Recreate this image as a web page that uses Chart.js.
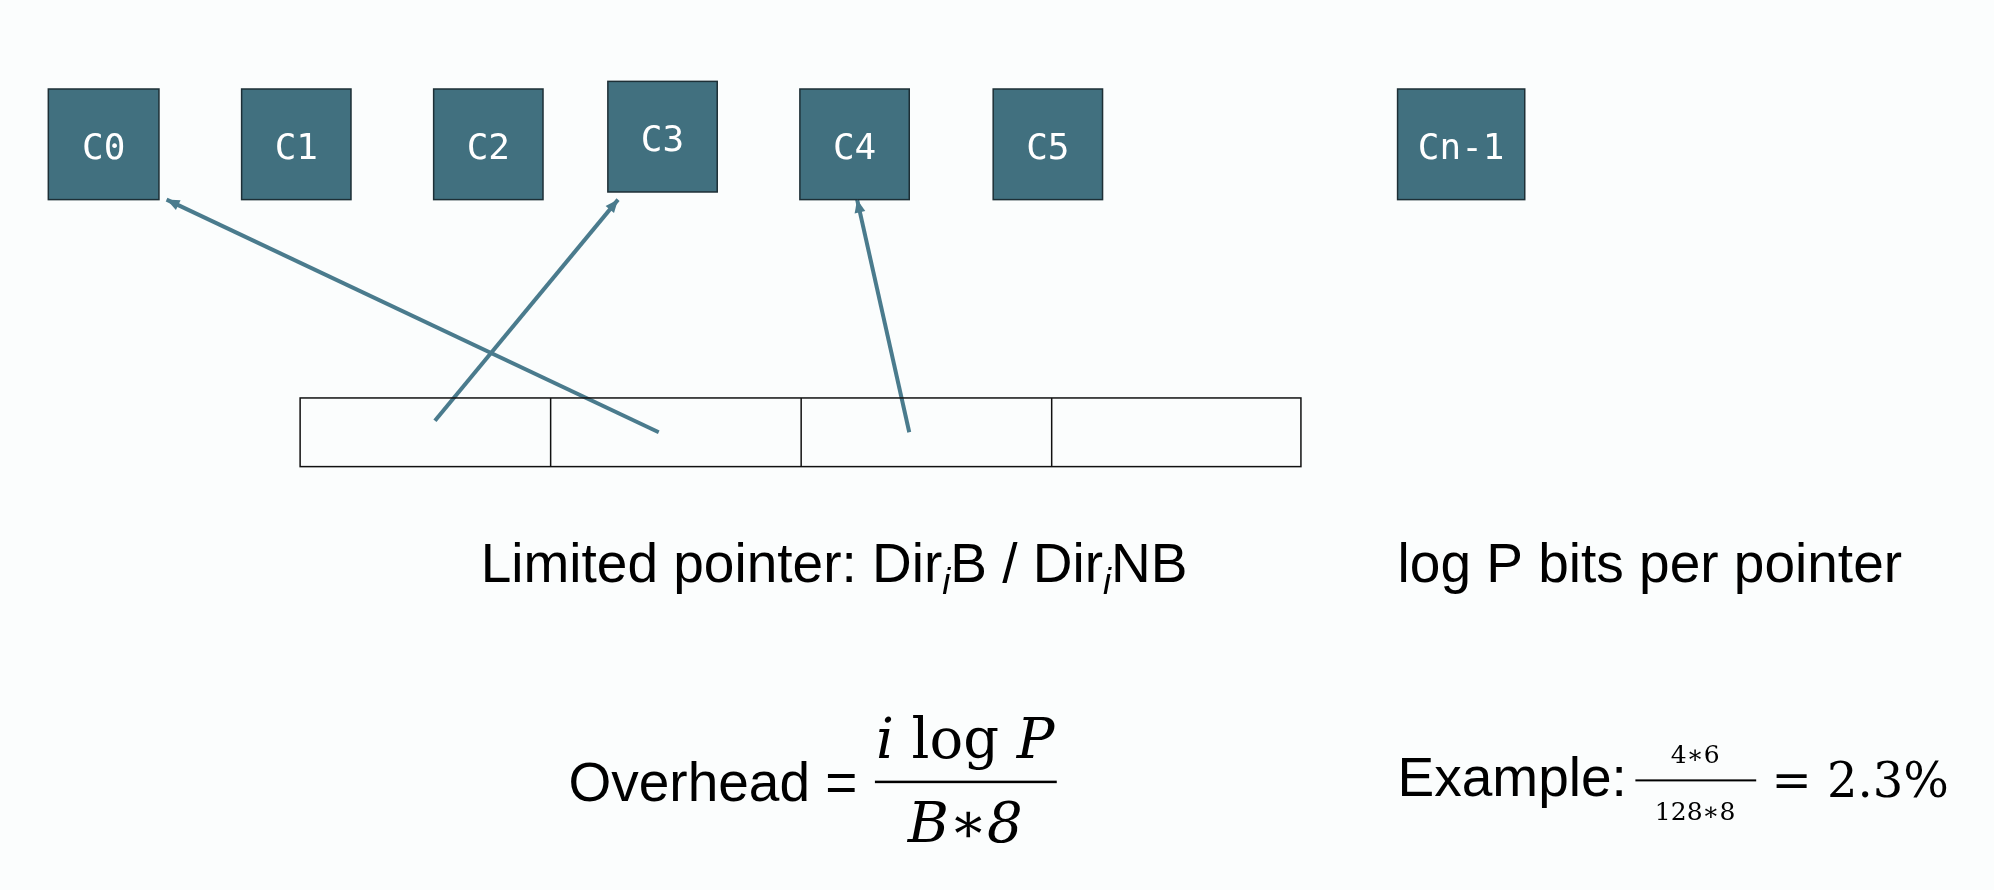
<!DOCTYPE html>
<html>
<head>
<meta charset="utf-8">
<script src="https://cdn.jsdelivr.net/npm/chart.js@4/dist/chart.umd.min.js"></script>
<style>
  html, body { margin: 0; padding: 0; background: #fbfdfd; }
  #wrap { width: 1994px; height: 890px; }
</style>
</head>
<body>
<div id="wrap"><canvas id="c"></canvas></div>
<script>
"use strict";

// cache labels and their boxes (x0, y0, x1, y1) in the 1568x700 drawing units
const cacheLabels = ["C0", "C1", "C2", "C3", "C4", "C5", "Cn-1"];
const cacheBoxes = [
    [38, 70, 125, 157], [190, 70, 276, 157], [341, 70, 427, 157],
    [478, 64, 564, 151], [629, 70, 715, 157], [781, 70, 867, 157],
    [1099, 70, 1199, 157],
];
// directory entry row
const entryEdges = [236, 433, 630, 827, 1023];
const entryTop = 313;
const entryBottom = 367;
// pointer arrows: start (in entry) -> end (at cache)
const pointers = [
    [{ x: 518, y: 340 }, { x: 131, y: 157 }],
    [{ x: 342, y: 331 }, { x: 486, y: 157 }],
    [{ x: 715, y: 340 }, { x: 674, y: 157 }],
];

const K = 1994 / 1568;
const teal = "#41707f";
const arrowColor = "#4a7b8d";

const diagramPlugin = {
    id: "diagram",
    afterDatasetsDraw(chart) {
        const ctx = chart.ctx;
        const sx = chart.scales.x, sy = chart.scales.y;
        const X = (v) => sx.getPixelForValue(v);
        const Y = (v) => sy.getPixelForValue(v);
        ctx.save();
        // cache boxes
        cacheBoxes.forEach((b, i) => {
            ctx.fillStyle = teal;
            ctx.fillRect(X(b[0]), Y(b[1]), X(b[2]) - X(b[0]), Y(b[3]) - Y(b[1]));
            ctx.strokeStyle = "#1d2f36";
            ctx.lineWidth = 1.5;
            ctx.strokeRect(X(b[0]), Y(b[1]), X(b[2]) - X(b[0]), Y(b[3]) - Y(b[1]));
            ctx.fillStyle = "#ffffff";
            ctx.font = `${Math.round(28 * K)}px "DejaVu Sans Mono"`;
            ctx.textAlign = "center";
            ctx.textBaseline = "middle";
            ctx.fillText(cacheLabels[i], X((b[0] + b[2]) / 2), Y((b[1] + b[3]) / 2 + 4));
        });
        // entry row
        ctx.strokeStyle = "#111";
        ctx.lineWidth = 1.5;
        ctx.strokeRect(X(entryEdges[0]), Y(entryTop), X(entryEdges[4]) - X(entryEdges[0]), Y(entryBottom) - Y(entryTop));
        entryEdges.slice(1, -1).forEach((e) => {
            ctx.beginPath();
            ctx.moveTo(X(e), Y(entryTop));
            ctx.lineTo(X(e), Y(entryBottom));
            ctx.stroke();
        });
        // arrowheads
        pointers.forEach((p) => {
            const x1 = X(p[1].x), y1 = Y(p[1].y);
            const a = Math.atan2(y1 - Y(p[0].y), x1 - X(p[0].x));
            const L = 14;
            ctx.fillStyle = arrowColor;
            ctx.beginPath();
            ctx.moveTo(x1, y1);
            ctx.lineTo(x1 - L * Math.cos(a - 0.4), y1 - L * Math.sin(a - 0.4));
            ctx.lineTo(x1 - L * Math.cos(a + 0.4), y1 - L * Math.sin(a + 0.4));
            ctx.closePath();
            ctx.fill();
        });
        // texts
        ctx.fillStyle = "#000";
        ctx.textAlign = "left";
        ctx.textBaseline = "alphabetic";
        const sans = `${Math.round(43 * K)}px "Liberation Sans"`;
        const sub = `italic ${Math.round(28 * K)}px "Liberation Sans"`;
        const runs = (x, y, parts) => {
            let cx = X(x);
            parts.forEach(([t, f, dy]) => {
                ctx.font = f;
                ctx.fillText(t, cx, Y(y + (dy || 0)));
                cx += ctx.measureText(t).width;
            });
            return cx;
        };
        runs(378, 458, [["Limited pointer: Dir", sans], ["i", sub, 9], ["B / Dir", sans], ["i", sub, 9], ["NB", sans]]);
        runs(1099, 458, [["log P bits per pointer", sans]]);
        runs(447, 630, [["Overhead = ", sans]]);
        // overhead fraction
        const serifI = `italic ${Math.round(44 * K)}px "DejaVu Serif"`;
        const serif = `${Math.round(44 * K)}px "DejaVu Serif"`;
        ctx.font = serifI;
        const w1 = ctx.measureText("i ").width;
        ctx.font = serif;
        const w2 = ctx.measureText("log ").width;
        ctx.font = serifI;
        const w3 = ctx.measureText("P").width;
        let nx = X(759) - (w1 + w2 + w3) / 2;
        ctx.fillText("i ", nx, Y(596));
        ctx.font = serif;
        ctx.fillText("log ", nx + w1, Y(596));
        ctx.font = serifI;
        ctx.fillText("P", nx + w1 + w2, Y(596));
        ctx.textAlign = "center";
        ctx.font = serifI;
        ctx.fillText("B\u22178", X(759), Y(662));
        ctx.fillRect(X(688), Y(614), X(831) - X(688), 2.5);
        ctx.textAlign = "left";
        runs(1099, 626, [["Example: ", sans]]);
        const small = `${Math.round(20 * K)}px "DejaVu Serif"`;
        ctx.font = small;
        ctx.textAlign = "center";
        ctx.fillText("4\u22176", X(1333), Y(600));
        ctx.fillText("128\u22178", X(1333), Y(645));
        ctx.fillRect(X(1286), Y(613), X(1381) - X(1286), 2);
        ctx.textAlign = "left";
        ctx.font = `${Math.round(38 * K)}px "DejaVu Serif"`;
        ctx.fillText("= 2.3%", X(1393), Y(627));
        ctx.restore();
    },
};

new Chart(document.getElementById("c"), {
    type: "scatter",
    data: {
        datasets: pointers.map((p) => ({
            data: p,
            showLine: true,
            borderColor: arrowColor,
            borderWidth: 4,
            pointRadius: 0,
        })),
    },
    options: {
        responsive: true,
        maintainAspectRatio: false,
        animation: false,
        layout: { padding: 0 },
        plugins: { legend: { display: false }, tooltip: { enabled: false } },
        scales: {
            x: { type: "linear", min: 0, max: 1568, display: false },
            y: { type: "linear", min: 0, max: 700, reverse: true, display: false },
        },
    },
    plugins: [diagramPlugin],
});
</script>
</body>
</html>
